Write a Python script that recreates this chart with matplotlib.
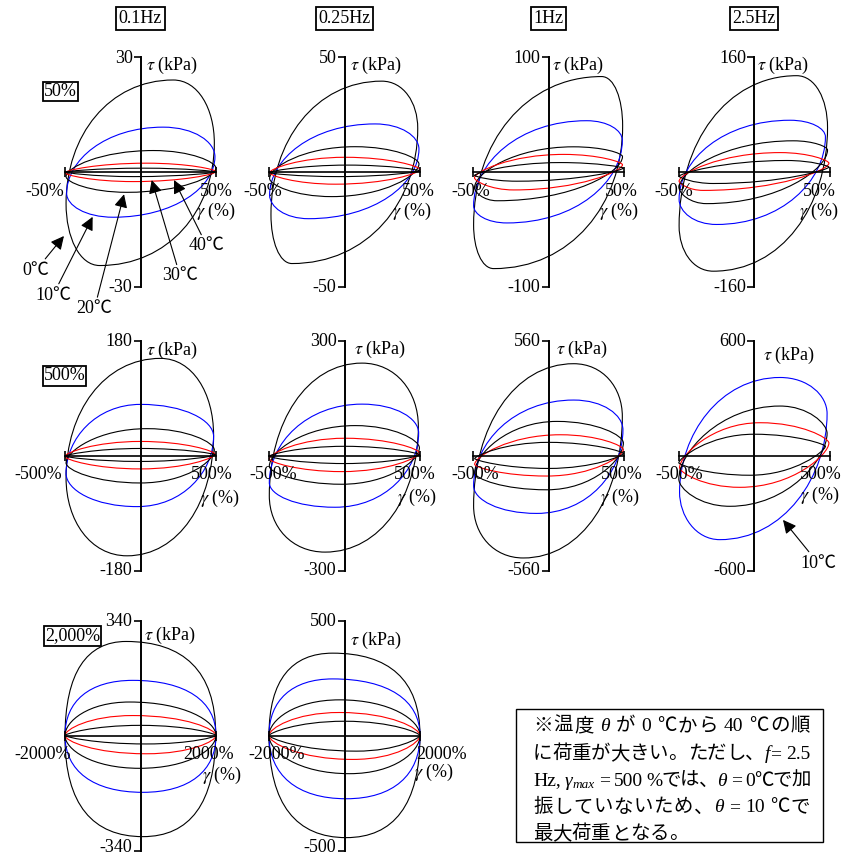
import matplotlib.pyplot as plt
from matplotlib.path import Path
from matplotlib.patches import PathPatch, Rectangle

plt.rcParams['font.family'] = ['Liberation Serif', 'Noto Sans CJK JP', 'DejaVu Sans']
plt.rcParams['mathtext.fontset'] = 'stix'

W, H = 842, 859
FS = 13

FREQS = ['0.1Hz', '0.25Hz', '1Hz', '2.5Hz']
AMPS = ['50%', '500%', '2,000%']
GAMMA_MAX = [50, 500, 2000]
TAU_MAX = [[30, 50, 100, 160], [180, 300, 560, 600], [340, 500]]
TEMPS = ['0℃', '10℃', '20℃', '30℃', '40℃']
LOOP_COLORS = ['black', 'blue', 'black', 'red', 'black']

# one row per temperature (0,10,20,30,40 ℃):
# γ,τ at right end / top / left end / bottom of the loop
L50_F01 = [[48.9, 7.5, 21.7, 24.0, -49.3, -8.2, -27.0, -24.4],
           [49.3, 4.0, 15.0, 11.7, -48.9, -5.6, -18.0, -11.8],
           [50.0, 1.0, 8.5, 5.6, -49.3, -1.2, -9.0, -5.3],
           [50.0, 0.1, 4.0, 2.3, -50.0, -0.2, -4.7, -2.5],
           [50.0, 0.0, 2.0, 1.0, -50.0, 0.0, -4.0, -1.2]]
L50_F025 = [[48.5, 19.0, 24.7, 39.5, -48.7, -18.5, -34.8, -39.8],
            [49.3, 10.0, 20.3, 20.9, -49.6, -10.0, -23.8, -20.3],
            [49.3, 3.5, 7.0, 11.0, -49.6, -2.8, -8.4, -10.7],
            [50.0, 1.1, 0.4, 6.4, -49.6, -0.3, -6.0, -5.3],
            [50.0, 0.5, 2.0, 3.0, -50.0, -0.3, -4.0, -2.0]]
L50_F1 = [[49.1, 40.0, 35.2, 83.0, -49.6, -46.0, -36.3, -84.0],
          [48.9, 27.6, 25.3, 44.6, -49.6, -29.3, -27.5, -44.3],
          [49.0, 13.4, 16.5, 21.9, -49.0, -13.6, -34.0, -25.0],
          [49.0, 6.3, 10.0, 15.3, -49.0, -5.1, -23.0, -15.6],
          [49.6, 3.4, 8.0, 8.2, -49.0, -3.0, -21.0, -8.0]]
L50_F25 = [[48.7, 62.0, 28.3, 134.0, -49.6, -75.0, -27.0, -138.0],
           [47.3, 49.0, 23.9, 72.0, -49.6, -38.0, -24.8, -73.0],
           [48.7, 30.6, 26.0, 43.4, -49.6, -22.0, -31.4, -44.0],
           [49.6, 12.3, 17.3, 27.0, -49.6, -12.8, -33.6, -25.6],
           [49.6, 6.9, 21.7, 16.0, -49.6, -5.9, -27.0, -16.0]]
L500_F01 = [[484, 32, 133, 152, -493, -35, -89, -157],
            [484, 30, 0, 80, -493, -28, -22, -80],
            [489, 8.7, 44, 42, -493, -11.8, 0, -43],
            [493, 2, 0, 22, -500, -1.5, 0, -21],
            [497, 1, 0, 11, -500, -1, 0, -9.3]]
L500_F025 = [[489, 76, 116, 241, -498, -105, -129, -252],
             [491, 59, 116, 134, -498, -71, -62, -135],
             [496, 20, 71, 78, -498, -28, -18, -75],
             [496, 7, 4, 45, -498, -8.6, -18, -42],
             [498, 2, 0, 24, -500, -2, 0, -21]]
L500_F1 = [[489, 190, 167, 447, -496, -245, -167, -499],
           [493, 125, 167, 270, -496, -148, -78, -282],
           [496, 61, 56, 166, -489, -84, -11, -167],
           [496, 29, 78, 101, -489, -43, -11, -100],
           [496, 10, 0, 64, -489, -15, 0, -63]]
L500_F25 = [None,
            [484, 219, 173, 407, -493, -191, -227, -439],
            [484, 116, 173, 258, -498, -123, -160, -265],
            [496, 65, 40, 171, -493, -63, -93, -166],
            [473, 48, 0, 111, -498, -38, -27, -103]]
L2000_F01 = [[1991, 5, -382, 278, -2000, -5, 62, -299],
             [2000, 0, -204, 163, -2000, 0, 62, -168],
             [2000, 0, -293, 99, -2000, 0, -27, -97],
             [2000, 0, -204, 59, -2000, 0, 151, -54],
             [2000, 0, 0, 30, -2000, 0, 151, -25]]
L2000_F025 = [[2000, 0, -314, 358, -2000, 0, 45, -444],
              [2000, 0, -314, 246, -2000, 0, 45, -275],
              [2000, 0, -134, 155, -2000, 0, 134, -166],
              [2000, 0, -134, 100, -2000, 0, 224, -104],
              [2000, 0, 0, 62, -2000, 0, 314, -68]]

LOOPS = [[L50_F01, L50_F025, L50_F1, L50_F25],
         [L500_F01, L500_F025, L500_F1, L500_F25],
         [L2000_F01, L2000_F025]]

# curve roundness near the strain ends / at the top and bottom
TIP_ROUND = [[0.55, 0.5, 0.35, 0.25, 0.15],
             [0.55, 0.5, 0.35, 0.25, 0.15],
             [0.68, 0.62, 0.42, 0.3, 0.15]]
EXT_ROUND = [0.6, 0.6, 0.64]

# panel placement (pixels)
COL_X = [140.5, 344.5, 548.5, 754]
ROW_Y = [172, 455.5, 735.5]
HALF_W, HALF_H = 75.5, 115
# label nudges: -γ label, +γ label, γ title x, γ title y, τ title x, τ title y
SHIFT = [[(-20, 0, 0, 39, 5, 8), (-6, -2, -7.5, 39, 6, 8), (-2, -3, -5, 39, 4, 8.5), (-5, -10, -10, 39, 3, 8)],
         [(-27, -4, 4, 43, 5, 9.5), (4, -5, -3, 42, 9, 9), (2, -2, -3.5, 42, 7, 9), (1, -9, -9, 40, 9, 15)],
         [(-22, -7, 6, 40, 4, 15), (8, 22, 14, 37, 5, 19.5)]]


def loop_path(p, kt, ke):
    gr, tr, gt, tt, gl, tl, gb, tb = p
    verts = [(gr, tr),
             (gr, tr + kt * (tt - tr)), (gt + ke * (gr - gt), tt), (gt, tt),
             (gt - ke * (gt - gl), tt), (gl, tl + kt * (tt - tl)), (gl, tl),
             (gl, tl - kt * (tl - tb)), (gb - ke * (gb - gl), tb), (gb, tb),
             (gb + ke * (gr - gb), tb), (gr, tr - kt * (tr - tb)), (gr, tr),
             (gr, tr)]
    codes = [Path.MOVETO] + [Path.CURVE4] * 12 + [Path.CLOSEPOLY]
    return Path(verts, codes)


fig = plt.figure(figsize=(W / 100, H / 100), dpi=100)


def ftext(px, py, s, **kw):
    return fig.text(px / W, 1 - py / H, s, **kw)


axes = {}
for r, amp in enumerate(AMPS):
    gm = GAMMA_MAX[r]
    for c, tm in enumerate(TAU_MAX[r]):
        cx, cy = COL_X[c], ROW_Y[r]
        ax = fig.add_axes([(cx - HALF_W) / W, 1 - (cy + HALF_H) / H, 2 * HALF_W / W, 2 * HALF_H / H])
        axes[r, c] = ax
        ax.set_xlim(-gm, gm)
        ax.set_ylim(-tm, tm)
        ax.patch.set_visible(False)
        for s in ('top', 'right'):
            ax.spines[s].set_visible(False)
        ax.spines['left'].set_position(('data', 0))
        ax.spines['bottom'].set_position(('data', 0))
        ax.spines['left'].set_linewidth(1.4)
        ax.spines['bottom'].set_linewidth(1.2)
        ax.set_xticks([-gm, gm])
        ax.set_yticks([-tm, tm])
        ax.tick_params(axis='x', direction='inout', length=7, width=1.2, labelbottom=False)
        ax.tick_params(axis='y', direction='out', length=5, width=1.2, labelleft=False)

        for i, p in enumerate(LOOPS[r][c]):
            if p is None:
                continue
            ax.add_patch(PathPatch(loop_path(p, TIP_ROUND[r][i], EXT_ROUND[r]), fill=False,
                                   ec=LOOP_COLORS[i], lw=0.8, clip_on=False))

        # axis end values
        ftext(cx - 8, cy - HALF_H + 1.5, f'{tm}', ha='right', va='center', fontsize=FS)
        ftext(cx - 8, cy + HALF_H - (3 if r == 2 else 0), f'-{tm}', ha='right', va='center', fontsize=FS)
        dxl, dxr, dxg, dyg, dxt, dyt = SHIFT[r][c]
        ftext(cx - HALF_W + dxl, cy + 19, f'-{gm}%', ha='center', va='center', fontsize=FS)
        ftext(cx + HALF_W + dxr, cy + 19, f'{gm}%', ha='center', va='center', fontsize=FS)
        ftext(cx + HALF_W + dxg, cy + dyg, r'$\gamma$ (%)', ha='center', va='center', fontsize=FS)
        ftext(cx + dxt, cy - HALF_H + dyt, r'$\tau$ (kPa)', ha='left', va='center', fontsize=FS)

# column / row headers
for c, f in enumerate(FREQS):
    ftext(COL_X[c], 18.5, f, ha='center', va='center', fontsize=FS,
          bbox=dict(boxstyle='square,pad=0.15', fc='white', ec='black', lw=1.3))
for (px, py), a in zip([(60.5, 91.5), (64.5, 376), (72.5, 636)], AMPS):
    ftext(px, py, a, ha='center', va='center', fontsize=FS,
          bbox=dict(boxstyle='square,pad=0.06', fc='white', ec='black', lw=1.3))

# temperature pointers
arrow = dict(arrowstyle='-|>,head_length=0.5,head_width=0.25', color='black', lw=0.8,
             mutation_scale=16, shrinkA=0, shrinkB=0)
ax = axes[0, 0]
for t, head, pos in zip(TEMPS,
                        [(-50.7, -16.7), (-31.7, -11.7), (-10.9, -5.8), (7.4, -2.1), (22.2, -2.1)],
                        [(-69.2, -25.6), (-57.9, -32.1), (-30.5, -35.6), (26.2, -27.1), (44.0, -19.3)]):
    ax.annotate(t, xy=head, xytext=pos, ha='center', va='center', fontsize=FS,
                arrowprops=arrow, annotation_clip=False)
axes[1, 3].annotate(TEMPS[1], xy=(192, -336), xytext=(424, -561), ha='center', va='center',
                    fontsize=FS, arrowprops=arrow, annotation_clip=False)

# note box
NOTE_LINES = [
    [('※温度 ', 'rm'), ('θ', 'it'), (' が 0 ℃から 40 ℃の順', 'rm')],
    [('に荷重が大きい。ただし、', 'rm'), ('f', 'it'), ('= 2.5', 'rm')],
    [('Hz, ', 'rm'), ('γ', 'it'), ('max', 'sub'), (' = 500 %では、', 'rm'), ('θ', 'it'), (' = 0℃で加', 'rm')],
    [('振していないため、', 'rm'), ('θ', 'it'), (' = 10 ℃で', 'rm')],
    [('最大荷重となる。', 'rm')],
]
NOTE_FS = 14
NOTE_X0, NOTE_X1 = 533, 810
NOTE_BASE = [731, 759, 785.5, 812.5, 839]


def is_wide(s):
    return len(s) == 1 and (ord(s) >= 0x2E80 or s in '※℃')


def tokenize(segments):
    toks, gap = [], 'none'
    for text, kind in segments:
        if kind == 'sub':
            toks.append((text, kind, 'glue'))
            gap = 'none'
            continue
        word = ''
        for ch in text:
            if ch == ' ':
                if word:
                    toks.append((word, kind, gap))
                    word, gap = '', 'none'
                gap = 'space'
            elif ord(ch) < 128:
                word += ch
            else:
                if word:
                    toks.append((word, kind, gap))
                    word, gap = '', 'none'
                toks.append((ch, kind, gap))
                gap = 'none'
        if word:
            toks.append((word, kind, gap))
            gap = 'none'
    return toks


renderer = fig.canvas.get_renderer()
em = NOTE_FS * 100 / 72
space_w = 0.25 * em
for li, line in enumerate(NOTE_LINES):
    toks = tokenize(line)
    arts, widths = [], []
    for text, kind, gap in toks:
        t = fig.text(0, 0, text, ha='left', va='baseline',
                     fontsize=NOTE_FS * 0.68 if kind == 'sub' else NOTE_FS,
                     style='italic' if kind in ('it', 'sub') else 'normal')
        arts.append(t)
        widths.append(em if is_wide(text) else t.get_window_extent(renderer).width)
    natural = sum(widths) + space_w * sum(1 for tk in toks[1:] if tk[2] == 'space')
    adjustable = [i for i in range(1, len(toks)) if toks[i][2] != 'glue']
    extra = (NOTE_X1 - NOTE_X0 - natural) / len(adjustable) if li < len(NOTE_LINES) - 1 else 0
    x = NOTE_X0
    for i, (t, (text, kind, gap)) in enumerate(zip(arts, toks)):
        if i > 0:
            if gap == 'space':
                x += space_w
            if gap != 'glue':
                x += extra
            else:
                x += 0.5
        y = NOTE_BASE[li] + (3 if kind == 'sub' else 0)
        t.set_position((x / W, 1 - y / H))
        x += widths[i]

fig.add_artist(Rectangle((516 / W, 1 - 841.7 / H), (823 - 516) / W, (841.7 - 709) / H,
                         transform=fig.transFigure, fill=False, ec='black', lw=1.0))

fig.savefig('out.png', dpi=100)
